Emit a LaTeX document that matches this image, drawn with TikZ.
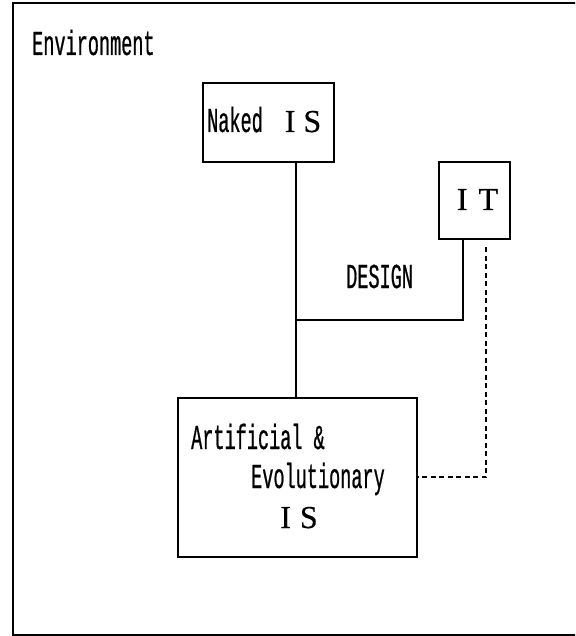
\documentclass[tikz,border=0pt]{standalone}
\usepackage{fontspec}
\newfontfamily\tw[FakeStretch=0.53,FakeBold=0.6]{Liberation Mono}
\newfontfamily\sr[FakeBold=0.4]{Liberation Serif}
\begin{document}
\begin{tikzpicture}[x=1pt,y=-1pt,
  box/.style={draw,line width=1.2pt},
  lbl/.style={inner sep=0pt,anchor=base west,font=\tw\fontsize{35}{40}\selectfont},
  serif/.style={inner sep=0pt,anchor=base,font=\sr\fontsize{32}{37}\selectfont},
  conn/.style={line width=1.1pt},
  dconn/.style={line width=1.1pt,dash pattern=on 5pt off 3.5pt}]
\clip (0,0) rectangle (575,636);
\draw[line width=2.2pt] (590,3) -- (13,3) -- (13,635) -- (590,635);
\node[lbl] (env) at (32,55) {Environment};
% boxes
\node[box,minimum width=131pt,minimum height=79pt] (naked) at (268.5,122.5) {};
\node[lbl] (nakedt) at (207,132) {Naked};
\node[serif] (nakedis) at (303,132) {I\hspace{8pt}S};
\node[box,minimum width=71pt,minimum height=77pt] (it) at (474.5,200.5) {};
\node[serif] (itt) at (477.5,210) {I\hspace{11pt}T};
\node[box,minimum width=239pt,minimum height=159pt] (art) at (297.5,477.5) {};
\node[lbl] (a1) at (191,449) {Artificial \&};
\node[lbl] (a2) at (251,488) {Evolutionary};
\node[serif] (a3) at (299,528) {I\hspace{9pt}S};
\node[lbl] (design) at (346,288) {DESIGN};
% connectors
\coordinate (j) at (296,320);
\coordinate (k) at (463,320);
\coordinate (d1) at (486,247);
\coordinate (d2) at (486,477);
\draw[conn] (naked.south -| j) -- (j) -- (art.north -| j);
\draw[conn] (it.south -| k) -- (k) -- (j);
\draw[dconn] (d1) -- (d2) -- (art.east |- d2);
\end{tikzpicture}
\end{document}
